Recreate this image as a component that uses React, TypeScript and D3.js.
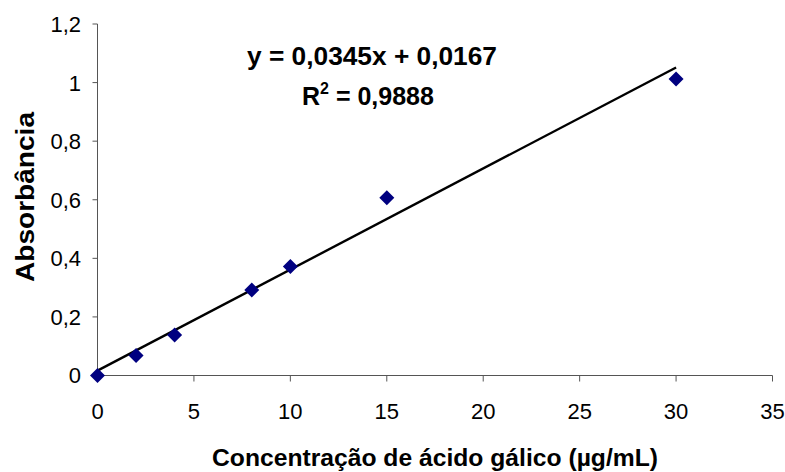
import React from 'react';
import { scaleLinear, line } from 'd3';

// concentration (µg/mL) and absorbance
const concentracao = [0, 2, 4, 8, 10, 15, 30];
const absorbancia = [0, 0.068, 0.138, 0.292, 0.372, 0.607, 1.012];

const xTicks = [0, 5, 10, 15, 20, 25, 30, 35];
const yTicks = [0, 0.2, 0.4, 0.6, 0.8, 1, 1.2];

// linear fit shown on the chart
const slope = 0.0345;
const intercept = 0.0167;
const trendX = [0, 30];

const W = 785;
const H = 472;
const font = 'Arial, "Liberation Sans", sans-serif';

const fmt = (v: number) => String(Math.round(v * 10) / 10).replace('.', ',');

export default function App() {
  const x = scaleLinear().domain([0, 35]).range([97.5, 772.5]);
  const y = scaleLinear().domain([0, 1.2]).range([375.5, 24]);

  const trend = line<number>()
    .x((d) => x(d))
    .y((d) => y(slope * d + intercept));

  const diamond = (cx: number, cy: number, r = 7.5) =>
    `M${cx},${cy - r}L${cx + r},${cy}L${cx},${cy + r}L${cx - r},${cy}Z`;

  return (
    <svg
      width={W}
      height={H}
      style={{ position: 'absolute', left: 0, top: 0, background: '#fff' }}
      fontFamily={font}
    >
      {/* axes */}
      <line x1={x(0)} x2={x(0)} y1={y(1.2)} y2={y(0)} stroke="#555" strokeWidth={1} />
      <line x1={x(0)} x2={x(35)} y1={y(0)} y2={y(0)} stroke="#555" strokeWidth={1} />
      {yTicks.map((t) => (
        <g key={'y' + t}>
          <line x1={x(0) - 5} x2={x(0)} y1={y(t)} y2={y(t)} stroke="#555" />
          <text x={81} y={y(t)} dy="0.36em" textAnchor="end" fontSize={22}>
            {fmt(t)}
          </text>
        </g>
      ))}
      {xTicks.map((t) => (
        <g key={'x' + t}>
          <line x1={x(t)} x2={x(t)} y1={y(0)} y2={y(0) + 6} stroke="#555" />
          <text x={x(t)} y={419} textAnchor="middle" fontSize={22}>
            {t}
          </text>
        </g>
      ))}

      {/* trend line */}
      <path d={trend(trendX) || ''} fill="none" stroke="#000" strokeWidth={2.4} />

      {/* points */}
      {concentracao.map((c, i) => (
        <path key={i} d={diamond(x(c), y(absorbancia[i]))} fill="#000080" />
      ))}

      {/* equation */}
      <text x={372} y={65} textAnchor="middle" fontSize={25} fontWeight="bold" textLength={250} lengthAdjust="spacingAndGlyphs">
        y = 0,0345x + 0,0167
      </text>
      <text x={302} y={105} fontSize={25} fontWeight="bold">
        R<tspan dy={-11} fontSize={16}>2</tspan>
        <tspan dy={11}> = 0,9888</tspan>
      </text>

      {/* axis titles */}
      <text x={435} y={466} textAnchor="middle" fontSize={23} fontWeight="bold" textLength={446} lengthAdjust="spacingAndGlyphs">
        Concentração de ácido gálico (µg/mL)
      </text>
      <text
        transform={`translate(34,197) rotate(-90)`}
        textAnchor="middle"
        fontSize={25}
        fontWeight="bold"
        textLength={170}
        lengthAdjust="spacingAndGlyphs"
      >
        Absorbância
      </text>
    </svg>
  );
}
